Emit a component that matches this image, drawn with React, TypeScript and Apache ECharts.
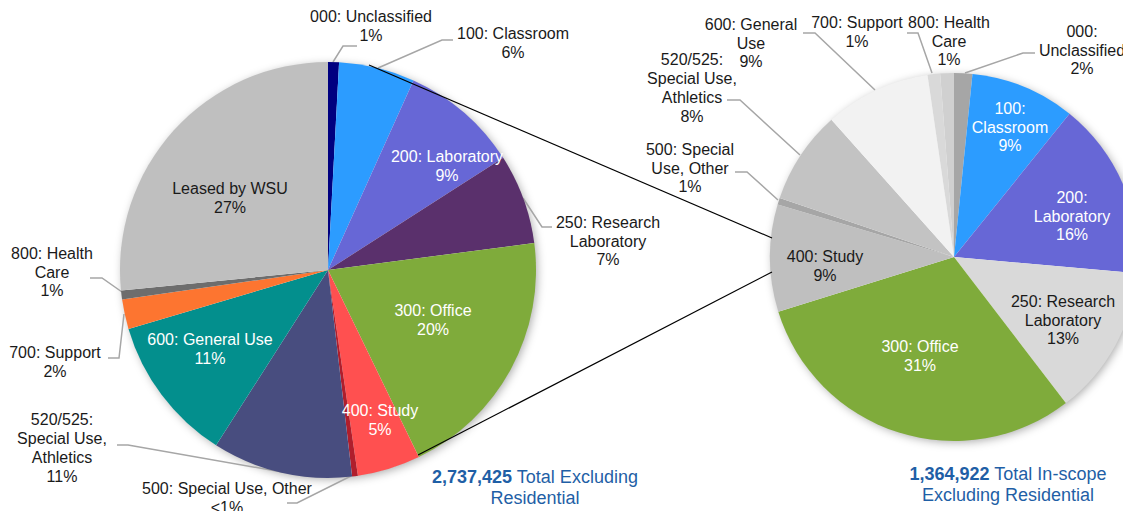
import React, { useEffect, useRef } from "react";
import * as echarts from "echarts";

// ---------- DATA ----------
const leftCategories = [
  "000: Unclassified",
  "100: Classroom",
  "200: Laboratory",
  "250: Research Laboratory",
  "300: Office",
  "400: Study",
  "500: Special Use, Other",
  "520/525: Special Use, Athletics",
  "600: General Use",
  "700: Support",
  "800: Health Care",
  "Leased by WSU",
];
const leftLabelNames = [
  "000: Unclassified",
  "100: Classroom",
  "200: Laboratory",
  "250: Research\nLaboratory",
  "300: Office",
  "400: Study",
  "500: Special Use, Other",
  "520/525:\nSpecial Use,\nAthletics",
  "600: General Use",
  "700: Support",
  "800: Health\nCare",
  "Leased by WSU",
];
const leftValues = [0.85, 5.9, 9.2, 7.0, 19.9, 4.9, 0.45, 10.9, 11.4, 2.3, 0.7, 26.6];

const rightCategories = [
  "000: Unclassified",
  "100: Classroom",
  "200: Laboratory",
  "250: Research Laboratory",
  "300: Office",
  "400: Study",
  "500: Special Use, Other",
  "520/525: Special Use, Athletics",
  "600: General Use",
  "700: Support",
  "800: Health Care",
];
const rightLabelNames = [
  "000:\nUnclassified",
  "100:\nClassroom",
  "200:\nLaboratory",
  "250: Research\nLaboratory",
  "300: Office",
  "400: Study",
  "500: Special\nUse, Other",
  "520/525:\nSpecial Use,\nAthletics",
  "600: General\nUse",
  "700: Support",
  "800: Health\nCare",
];
const rightValues = [1.6, 9.2, 15.6, 13.2, 30.6, 9.4, 0.6, 8.2, 9.3, 1.1, 1.2];

const leftTotal = "2,737,425";
const leftTotalText = ["Total Excluding", "Residential"];
const rightTotal = "1,364,922";
const rightTotalText = ["Total In-scope", "Excluding Residential"];

// ---------- STYLES / LAYOUT ----------
const FONT = "'Liberation Sans', Arial, sans-serif";
const LABEL_SIZE = 16;
const LABEL_LH = 18.7;
const TITLE_SIZE = 18;
const TITLE_LH = 21.5;
const leftColors = ["#000080", "#2c9cff", "#6767d6", "#5a306c", "#7fab3b", "#ff5050", "#b01e2c", "#484d7f", "#038f8d", "#fd7530", "#6d6d6d", "#bfbfbf"];
const leftInside = [false, false, true, false, true, true, false, false, true, false, false, true];
const leftInsideDark = [false, false, false, false, false, false, false, false, false, false, false, true];
const leftLabelPos: number[][] = [
  [371, 26], [513, 43], [447, 166], [608, 241], [433, 320], [380, 420],
  [227, 498], [62, 448], [210, 349], [55, 362], [52, 272], [230, 198],
];
const leftLeaders: (number[][] | null)[] = [
  [[333, 62], [343, 46], [357, 46]],
  [[378, 68], [442, 40], [453, 40]],
  null,
  [[523, 198], [542, 227], [552, 227]],
  null,
  null,
  [[351, 476], [297, 503], [287, 503]],
  [[282, 472], [128, 445], [117, 445]],
  null,
  [[124, 314], [119, 358], [108, 358]],
  [[122, 292], [102, 278], [90, 278]],
  null,
];

const rightColors = ["#a6a6a6", "#2c9cff", "#6767d6", "#d9d9d9", "#7fab3b", "#bfbfbf", "#a6a6a6", "#c3c3c3", "#f2f2f2", "#d9d9d9", "#d0d0d0"];
const rightInside = [false, true, true, true, true, true, false, false, false, false, false];
const rightInsideDark = [false, false, false, true, false, true, false, false, false, false, false];
const rightLabelPos: number[][] = [
  [1082, 50], [1010, 127], [1072, 216], [1063, 320], [920, 356], [825, 266],
  [690, 168], [692, 88], [751, 43], [857, 32], [949, 41],
];
const rightLeaders: (number[][] | null)[] = [
  [[965, 73], [1023, 53], [1035, 53]],
  null, null, null, null, null,
  [[778, 200], [747, 172], [735, 172]],
  [[800, 155], [740, 100], [727, 100]],
  [[875, 90], [815, 33], [803, 33]],
  [[932, 73], [918, 33], [907, 33]],
  null,
];

const LEFT_C = [328, 270];
const LEFT_R = 208;
const RIGHT_C = [954, 257];
const RIGHT_R = 184;

function pctText(v: number, total: number) {
  const p = Math.round((v / total) * 100);
  return p < 1 ? "<1%" : p + "%";
}

function buildData(
  names: string[], values: number[], labels: string[], colors: string[],
  inside: boolean[], dark: boolean[], leaders: (number[][] | null)[]
) {
  const total = values.reduce((a, b) => a + b, 0);
  return names.map((n, i) => ({
    name: n,
    value: values[i],
    itemStyle: { color: colors[i] },
    label: {
      show: true,
      position: inside[i] ? "inside" : "outside",
      formatter: labels[i] + "\n" + pctText(values[i], total),
      color: inside[i] ? (dark[i] ? "#1a1a1a" : "#ffffff") : "#1a1a1a",
      fontSize: LABEL_SIZE,
      lineHeight: LABEL_LH,
      fontFamily: FONT,
      align: "center",
    },
    labelLine: {
      show: !inside[i] && leaders[i] != null,
      lineStyle: { color: "#a6a6a6", width: 1.5 },
    },
  }));
}

function makeLayout(pos: number[][], leaders: (number[][] | null)[]) {
  return (params: any) => {
    const p = pos[params.dataIndex];
    const res: any = { x: p[0], y: p[1], align: "center", verticalAlign: "middle" };
    const l = leaders[params.dataIndex];
    if (l) res.labelLinePoints = l;
    return res;
  };
}

export default function App() {
  const ref = useRef<HTMLDivElement>(null);
  useEffect(() => {
    document.body.style.margin = "0";
    if (!ref.current) return;
    const chart = echarts.init(ref.current, null, { renderer: "svg" });
    const shadowCircle = (c: number[], r: number) => ({
      type: "circle",
      z: 0,
      shape: { cx: c[0], cy: c[1], r: r - 1 },
      style: { fill: "#ffffff", shadowBlur: 10, shadowColor: "rgba(0,0,0,0.35)", shadowOffsetX: 2, shadowOffsetY: 2 },
    });
    const titleText = (x: number, y: number, num: string, lines: string[]) => ({
      type: "text", z: 100, x, y,
      style: {
        text: "{b|" + num + "} " + lines[0] + "\n" + lines[1],
        align: "center", verticalAlign: "top",
        fill: "#1f5fa6", fontSize: TITLE_SIZE, fontFamily: FONT, lineHeight: TITLE_LH,
        rich: { b: { fontWeight: "bold", fill: "#1f5fa6", fontSize: TITLE_SIZE, fontFamily: FONT, lineHeight: TITLE_LH } },
      },
    });
    chart.setOption({
      animation: false,
      backgroundColor: "#ffffff",
      series: [
        {
          type: "pie",
          center: LEFT_C,
          radius: LEFT_R,
          startAngle: 90,
          clockwise: true,
          avoidLabelOverlap: false,
          data: buildData(leftCategories, leftValues, leftLabelNames, leftColors, leftInside, leftInsideDark, leftLeaders),
          labelLayout: makeLayout(leftLabelPos, leftLeaders),
          emphasis: { disabled: true },
        },
        {
          type: "pie",
          center: RIGHT_C,
          radius: RIGHT_R,
          startAngle: 90,
          clockwise: true,
          avoidLabelOverlap: false,
          data: buildData(rightCategories, rightValues, rightLabelNames, rightColors, rightInside, rightInsideDark, rightLeaders),
          labelLayout: makeLayout(rightLabelPos, rightLeaders),
          emphasis: { disabled: true },
        },
      ],
      graphic: [
        shadowCircle(LEFT_C, LEFT_R),
        shadowCircle(RIGHT_C, RIGHT_R),
        {
          type: "line", z: 100,
          shape: { x1: 369, y1: 65, x2: 772, y2: 238 },
          style: { stroke: "#000000", lineWidth: 1.2 },
        },
        {
          type: "line", z: 100,
          shape: { x1: 418, y1: 455, x2: 772, y2: 272 },
          style: { stroke: "#000000", lineWidth: 1.2 },
        },
        titleText(535, 466, leftTotal, leftTotalText),
        titleText(1008, 463, rightTotal, rightTotalText),
      ],
    });
    return () => chart.dispose();
  }, []);
  return <div ref={ref} style={{ width: 1123, height: 511 }} />;
}
